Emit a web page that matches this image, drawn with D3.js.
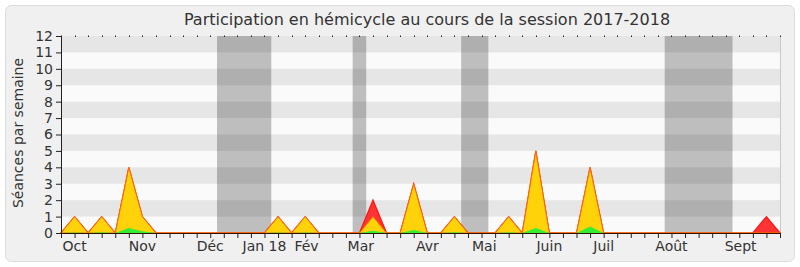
<!DOCTYPE html>
<meta charset="utf-8">
<head>
<style>
  body { margin: 0; background: #fff; }
  text { font-family: "DejaVu Sans", Verdana, sans-serif; fill: #333; }
</style>
</head>
<body>
<script src="https://d3js.org/d3.v7.min.js"></script>
<svg width="800" height="267"></svg>
<script>
// weekly values, week 0 = first week of October 2017
var presences     = [0,1,0,1,0,4,1,0,0,0,0,0,0,0,0,0,1,0,1,0,0,0,0,2,0,0,3,0,0,1,0,0,0,1,0,5,0,0,0,4,0,0,0,0,0,0,0,0,0,0,0,0,1,0];
var participations= [0,1,0,1,0,4,1,0,0,0,0,0,0,0,0,0,1,0,1,0,0,0,0,1,0,0,3,0,0,1,0,0,0,1,0,5,0,0,0,4,0,0,0,0,0,0,0,0,0,0,0,0,0,0];
var interventions = [0,0.03,0,0.04,0,0.3,0.1,0,0,0,0,0,0,0,0,0,0.03,0,0.03,0,0,0,0,0.14,0,0,0.18,0,0,0.04,0,0,0,0.04,0,0.3,0,0,0,0.4,0,0,0,0,0,0,0,0,0,0,0,0,0,0];

// parliamentary holidays, in weeks
var vacances = [[11.5, 15.5], [21.5, 22.5], [29.5, 31.5], [44.5, 49.5]];

// month labels and the week they sit on
var mois = ["Oct", "Nov", "Déc", "Jan 18", "Fév", "Mar", "Avr", "Mai", "Juin", "Juil", "Août", "Sept"];
var moisSemaine = [1, 6, 11, 15, 18.1, 22.1, 27, 31.2, 36, 40, 45, 50.1];

var yTicks = d3.range(0, 13);

var svg = d3.select("svg");

// frame
svg.append("rect")
    .attr("x", 5.5).attr("y", 5.5)
    .attr("width", 789).attr("height", 256)
    .attr("rx", 6)
    .attr("fill", "#f0f0f0")
    .attr("stroke", "#dcdcdc");

svg.append("text")
    .attr("x", 427).attr("y", 25)
    .attr("text-anchor", "middle")
    .attr("font-size", "16px")
    .text("Participation en hémicycle au cours de la session 2017-2018");

var nWeeks = presences.length;
var x = d3.scaleLinear().domain([0, nWeeks - 1]).range([61, 780]);
var y = d3.scaleLinear().domain([0, 12]).range([233, 36]);

// plot background
svg.append("rect")
    .attr("x", x(0)).attr("y", y(12))
    .attr("width", x(nWeeks - 1) - x(0)).attr("height", y(0) - y(12))
    .attr("fill", "#fafafa");

svg.selectAll(".vac")
    .data(vacances)
    .enter().append("rect")
    .attr("x", function (d) { return x(d[0]); })
    .attr("y", y(12))
    .attr("width", function (d) { return x(d[1]) - x(d[0]); })
    .attr("height", y(0) - y(12))
    .attr("fill", "#bebebe");

// horizontal stripes
svg.selectAll(".stripe")
    .data(yTicks.filter(function (d) { return d % 2 == 1; }))
    .enter().append("rect")
    .attr("x", x(0))
    .attr("y", function (d) { return y(d + 1); })
    .attr("width", x(nWeeks - 1) - x(0))
    .attr("height", function (d) { return y(d) - y(d + 1); })
    .attr("fill", "#000")
    .attr("fill-opacity", 0.08);

svg.append("line")
    .attr("x1", 780.5).attr("x2", 780.5)
    .attr("y1", y(12)).attr("y2", y(0))
    .attr("stroke", "#c8c8c8");

function area(vals) {
    return d3.area()
        .x(function (d, i) { return x(i); })
        .y0(y(0))
        .y1(function (d) { return y(d); })(vals);
}

svg.append("path")
    .attr("d", area(presences))
    .attr("fill", "#ff3333")
    .attr("stroke", "#ff1111")
    .attr("stroke-width", 1.2);

svg.append("path")
    .attr("d", area(participations))
    .attr("fill", "#ffd20a")
    .attr("stroke", "#ff6a00")
    .attr("stroke-width", 1);

svg.append("path")
    .attr("d", area(interventions))
    .attr("fill", "#33ee33");

// axes
var xAxis = svg.append("g")
    .attr("transform", "translate(0," + y(0) + ")")
    .call(d3.axisBottom(x).tickValues(d3.range(0, nWeeks)).tickSize(5).tickFormat(""));
xAxis.select(".domain").attr("stroke", "#331100");
xAxis.selectAll(".tick line").attr("stroke", "#222");

svg.selectAll(".topTick")
    .data(d3.range(0, nWeeks))
    .enter().append("rect")
    .attr("x", function (d) { return Math.round(x(d)); })
    .attr("y", y(12) - 0.5)
    .attr("width", 1).attr("height", 1.5)
    .attr("fill", "#222");

svg.selectAll(".mois")
    .data(mois)
    .enter().append("text")
    .attr("x", function (d, i) { return x(moisSemaine[i]); })
    .attr("y", 251)
    .attr("text-anchor", "middle")
    .attr("font-size", "14px")
    .text(function (d) { return d; });

var yAxis = svg.append("g")
    .attr("transform", "translate(" + x(0) + ",0)")
    .call(d3.axisLeft(y).tickValues(yTicks).tickSize(5).tickPadding(3));
yAxis.select(".domain").attr("stroke", "#222");
yAxis.selectAll(".tick line").attr("stroke", "#222");
yAxis.selectAll(".tick text")
    .attr("font-size", "14px")
    .attr("font-family", "DejaVu Sans, sans-serif")
    .attr("fill", "#333");

svg.append("text")
    .attr("transform", "translate(23,133) rotate(-90)")
    .attr("text-anchor", "middle")
    .attr("font-size", "14px")
    .text("Séances par semaine");
</script>
</body>
</html>
